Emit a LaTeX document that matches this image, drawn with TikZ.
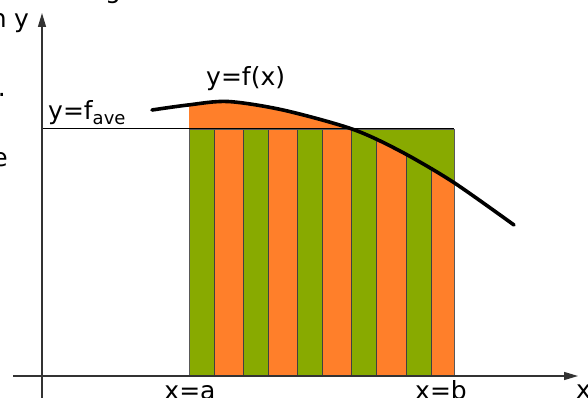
\documentclass[tikz,border=0pt]{standalone}
\usepackage{fontspec}
\setmainfont{DejaVu Sans}
\usetikzlibrary{arrows.meta}
\definecolor{stripgreen}{HTML}{88AA00}
\definecolor{striporange}{HTML}{FF7F2A}
\tikzset{
  axis/.style = {line width = 1.3pt, draw = black!80, -{Triangle[length = 14pt, width = 8pt]}},
  strip/.style = {draw = black!75, line width = .9pt},
  lbl/.style = {inner sep = 0pt, font = \fontsize{25}{30}\selectfont}
}
\newcommand\curvepts{(152,110) (188,105) (228,101.5) (283,110) (352,129)
  (400,151) (453,182) (514,225)}
\begin{document}
\begin{tikzpicture}[x = 1pt, y = -1pt]
  \useasboundingbox (0,0) rectangle (588,398);
  \coordinate (o) at (42,376);
  \coordinate (ybot) at (42,400);
  \coordinate (ytop) at (42,13);
  \coordinate (xleft) at (13,376);
  \coordinate (xright) at (578,376);
  \coordinate (fa) at (42,129);
  \coordinate (fb) at (454,129);
  \fill [stripgreen] (189,129) rectangle (454,376);
  \begin{scope}
    \clip plot [smooth] coordinates {\curvepts} -- (514,420) -- (152,420) -- cycle;
    \fill [striporange] (189,80) rectangle (454,129);
    \foreach \i in {0, 1, 2, 3, 4}
      \draw [strip, fill = striporange]
        ({214 + 54.3*\i}, 129) rectangle ({min(454, 243.3 + 54.3*\i)}, 376);
  \end{scope}
  \draw [strip, draw = black!65] (189,129) rectangle (454,376);
  \draw [line width = 1pt] (fa) -- (fb);
  \draw [axis] (ybot) -- (ytop);
  \draw [axis] (xleft) -- (xright);
  \draw [line width = 3.6pt, line cap = round] plot [smooth] coordinates {\curvepts};
  \node [lbl, anchor = base west] (fx) at (206,86) {y=f(x)};
  \node [lbl, anchor = base west] (fave) at (48,120)
    {y=f\raisebox{-.3ex}{\fontsize{18}{20}\selectfont ave}};
  \node [lbl, anchor = base west] (ylab) at (14,28) {y};
  \node [lbl, anchor = base west] (xlab) at (576,398) {x};
  \node [lbl, anchor = base] (xa) at (190,399) {x=a};
  \node [lbl, anchor = base] (xb) at (441,399) {x=b};
  \node [lbl, anchor = base east] (cutn) at (7,28) {n};
  \node [lbl, anchor = base east] (cutdot) at (6,97) {.};
  \node [lbl, anchor = base east] (cute) at (8,166) {e};
  \node [lbl, anchor = base] (cutg) at (113,-1) {g};
\end{tikzpicture}
\end{document}
